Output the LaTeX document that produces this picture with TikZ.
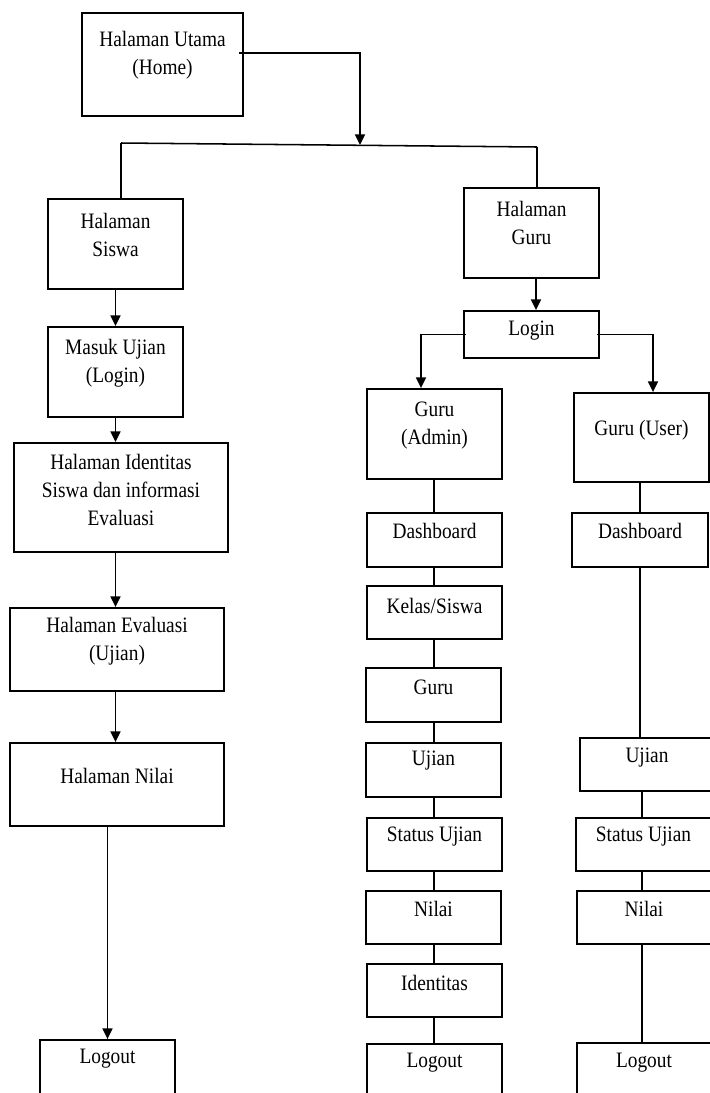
\documentclass[tikz,border=0pt]{standalone}
\usepackage{fontspec}
\setmainfont[FakeStretch=0.88]{Liberation Serif}
\usetikzlibrary{fit,arrows.meta}
\begin{document}
\begin{tikzpicture}[x=0.75pt,y=-0.75pt,
  box/.style={draw, line width=1.4pt, inner sep=0pt},
  txt/.style={align=center, inner sep=0pt, font=\fontsize{16.5}{21}\selectfont},
  link/.style={line width=1.15pt},
  arr/.style={line width=1.15pt, -{Triangle[length=8pt,width=7.5pt]}}]
\useasboundingbox (0,0) rectangle (710,1093);
\clip (0,0) rectangle (710,1093);
% boxes
\node[box, fit={(82,13) (243,116)}] (home) {};
\node[box, fit={(48,199) (183,289)}] (siswa) {};
\node[box, fit={(464,188) (599,278)}] (guru) {};
\node[box, fit={(48,327) (183,417)}] (masuk) {};
\node[box, fit={(464,311) (599,358)}] (login) {};
\node[box, fit={(14,443) (228,552)}] (ident) {};
\node[box, fit={(367,389) (502,479)}] (admin) {};
\node[box, fit={(574,393) (709,482)}] (user) {};
\node[box, fit={(367,513) (502,567)}] (dashA) {};
\node[box, fit={(572,513) (708,567)}] (dashU) {};
\node[box, fit={(10,608) (224,691)}] (eval) {};
\node[box, fit={(10,743) (224,826)}] (nilaiS) {};
\node[box, fit={(367,586) (502,639)}] (kelas) {};
\node[box, fit={(366,668) (501,722)}] (guruA) {};
\node[box, fit={(366,743) (501,797)}] (ujianA) {};
\node[box, fit={(367,818) (502,871)}] (statusA) {};
\node[box, fit={(580,738) (714,791)}] (ujianU) {};
\node[box, fit={(576,818) (711,871)}] (statusU) {};
\node[box, fit={(366,891) (501,944)}] (nilaiA) {};
\node[box, fit={(577,891) (711,944)}] (nilaiU) {};
\node[box, fit={(367,964) (502,1017)}] (identA) {};
\node[box, fit={(367,1044) (502,1110)}] (logoutA) {};
\node[box, fit={(40,1040) (175,1110)}] (logoutS) {};
\node[box, fit={(577,1043) (711,1110)}] (logoutU) {};
% texts
\node[txt] (thome) at (home.center |- 0,55) {Halaman Utama\\(Home)};
\node[txt] (tsiswa) at (siswa.center |- 0,235) {Halaman\\Siswa};
\node[txt] (tguru) at (guru.center |- 0,223) {Halaman\\Guru};
\node[txt] (tmasuk) at (masuk.center |- 0,363) {Masuk Ujian\\(Login)};
\node[txt] (tlogin) at (login.center |- 0,331) {Login};
\node[txt] (tident) at (ident.center |- 0,490) {Halaman Identitas\\Siswa dan informasi\\Evaluasi};
\node[txt] (tadmin) at (admin.center |- 0,426) {Guru\\(Admin)};
\node[txt] (tuser) at (user.center |- 0,430) {Guru (User)};
\node[txt] (tdashA) at (dashA.center |- 0,531) {Dashboard};
\node[txt] (tdashU) at (dashU.center |- 0,531) {Dashboard};
\node[txt] (teval) at (eval.center |- 0,641) {Halaman Evaluasi\\(Ujian)};
\node[txt] (tnilaiS) at (nilaiS.center |- 0,776) {Halaman Nilai};
\node[txt] (tkelas) at (kelas.center |- 0,606) {Kelas/Siswa};
\node[txt] (tguruA) at (guruA.center |- 0,687) {Guru};
\node[txt] (tujianA) at (ujianA.center |- 0,761) {Ujian};
\node[txt] (tstatusA) at (statusA.center |- 0,837) {Status Ujian};
\node[txt] (tujianU) at (ujianU.center |- 0,758) {Ujian};
\node[txt] (tstatusU) at (statusU.center |- 0,837) {Status Ujian};
\node[txt] (tnilaiA) at (nilaiA.center |- 0,909) {Nilai};
\node[txt] (tnilaiU) at (nilaiU.center |- 0,909) {Nilai};
\node[txt] (tidentA) at (identA.center |- 0,983) {Identitas};
\node[txt] (tlogoutA) at (logoutA.center |- 0,1063) {Logout};
\node[txt] (tlogoutS) at (logoutS.center |- 0,1059) {Logout};
\node[txt] (tlogoutU) at (logoutU.center |- 0,1063) {Logout};
% connectors
\coordinate (barL) at (121,143);
\coordinate (barR) at (537,147);
\coordinate (barM) at (360,145);
\coordinate (homeOut) at (239,53);
\draw[link] (barL) -- (barR);
\draw[arr] (homeOut) -| (barM);
\draw[link] (barL) -- (barL |- siswa.north);
\draw[link] (barR) -- (barR |- guru.north);
\draw[arr] (siswa.south) -- (masuk.north);
\draw[arr] (masuk.south) -- (ident.north -| masuk.south);
\draw[arr] (ident.south -| masuk.south) -- (eval.north -| masuk.south);
\draw[arr] (eval.south -| masuk.south) -- (nilaiS.north -| masuk.south);
\draw[arr] (nilaiS.south -| logoutS.north) -- (logoutS.north);
\coordinate (gx) at (536,0);
\draw[arr] (guru.south -| gx) -- (login.north -| gx);
\coordinate (ax) at (421,0);
\coordinate (ux) at (653,0);
\draw[arr] ([xshift=2pt]login.west) -| (admin.north -| ax);
\draw[arr] ([xshift=-2pt]login.east) -| (user.north -| ux);
\coordinate (cA) at (434,0);
\draw[link] (admin.south -| cA) -- (dashA.north -| cA);
\draw[link] (dashA.south -| cA) -- (kelas.north -| cA);
\draw[link] (kelas.south -| cA) -- (guruA.north -| cA);
\draw[link] (guruA.south -| cA) -- (ujianA.north -| cA);
\draw[link] (ujianA.south -| cA) -- (statusA.north -| cA);
\draw[link] (statusA.south -| cA) -- (nilaiA.north -| cA);
\draw[link] (nilaiA.south -| cA) -- (identA.north -| cA);
\draw[link] (identA.south -| cA) -- (logoutA.north -| cA);
\coordinate (cU) at (640,0);
\coordinate (cU2) at (642,0);
\draw[link] (user.south -| cU) -- (dashU.north -| cU);
\draw[link] (dashU.south -| cU) -- (ujianU.north -| cU);
\draw[link] (ujianU.south -| cU2) -- (statusU.north -| cU2);
\draw[link] (statusU.south -| cU2) -- (nilaiU.north -| cU2);
\draw[link] (nilaiU.south -| cU2) -- (logoutU.north -| cU2);
\end{tikzpicture}
\end{document}
